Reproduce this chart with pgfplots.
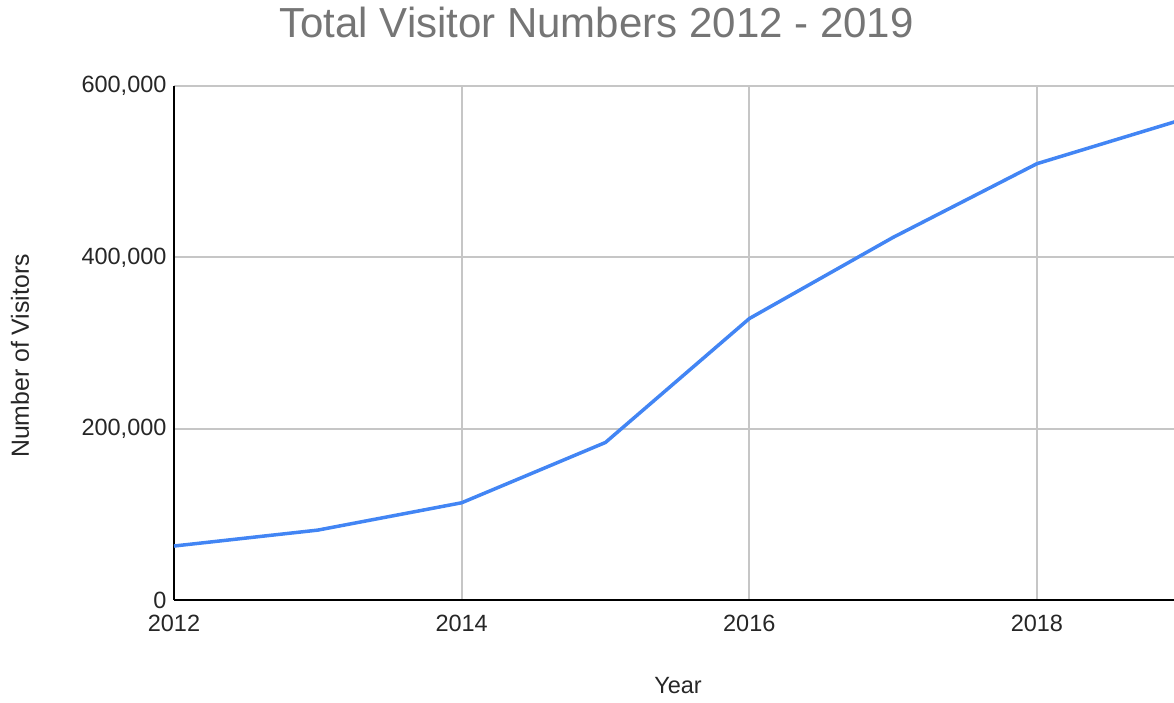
\documentclass[border=0pt]{standalone}
\usepackage{fontspec}
\setmainfont{Liberation Sans}
\usepackage{pgfplots}
\pgfplotsset{compat=1.18}
\usetikzlibrary{calc}
\definecolor{gblue}{HTML}{4285F4}
\definecolor{ggrid}{HTML}{C6C6C6}
\definecolor{gtitle}{HTML}{757575}
\begin{document}
\begin{tikzpicture}
\begin{axis}[
  scale only axis,
  width=1000bp, height=514bp,
  xmin=2012, xmax=2018.953,
  ymin=0, ymax=600000,
  xtick={2012,2014,2016,2018},
  xticklabels={2012,2014,2016,2018},
  ytick={0,200000,400000,600000},
  yticklabels={0,{200,000},{400,000},{600,000}},
  scaled y ticks=false,
  axis x line*=bottom,
  axis y line*=left,
  axis line style={black, line width=1.6bp, -},
  major tick length=0pt,
  grid=major,
  major grid style={ggrid, line width=2bp},
  xticklabel style={font=\fontsize{23.5bp}{28bp}\selectfont, text=black!85, yshift=-12bp},
  yticklabel style={font=\fontsize{23.5bp}{28bp}\selectfont, text=black!85, xshift=-4bp},
  xlabel={Year},
  ylabel={Number of Visitors},
  xlabel style={at={(axis description cs:0.504,-0.1673)}, anchor=center, font=\fontsize{23.5bp}{28bp}\selectfont, text=black!85},
  ylabel style={at={(axis description cs:-0.154,0.4747)}, anchor=center, font=\fontsize{24.8bp}{29bp}\selectfont, text=black!85},
  title={Total Visitor Numbers 2012 - 2019},
  title style={at={(axis description cs:0.4225,1.0836)}, anchor=base, font=\fontsize{42bp}{49bp}\selectfont, text=gtitle},
  clip=true,
]
\addplot[gblue, line width=3.5bp, line join=round] coordinates {
  (2012,63000) (2013,81600) (2014,113500) (2015,183900)
  (2016,328500) (2017,423300) (2018,509300) (2019,560300)
};
\end{axis}
\pgfresetboundingbox
\path ($(current axis.south west)+(-174bp,-102bp)$) rectangle ($(current axis.north east)+(0bp,86bp)$);
\end{tikzpicture}
\end{document}
